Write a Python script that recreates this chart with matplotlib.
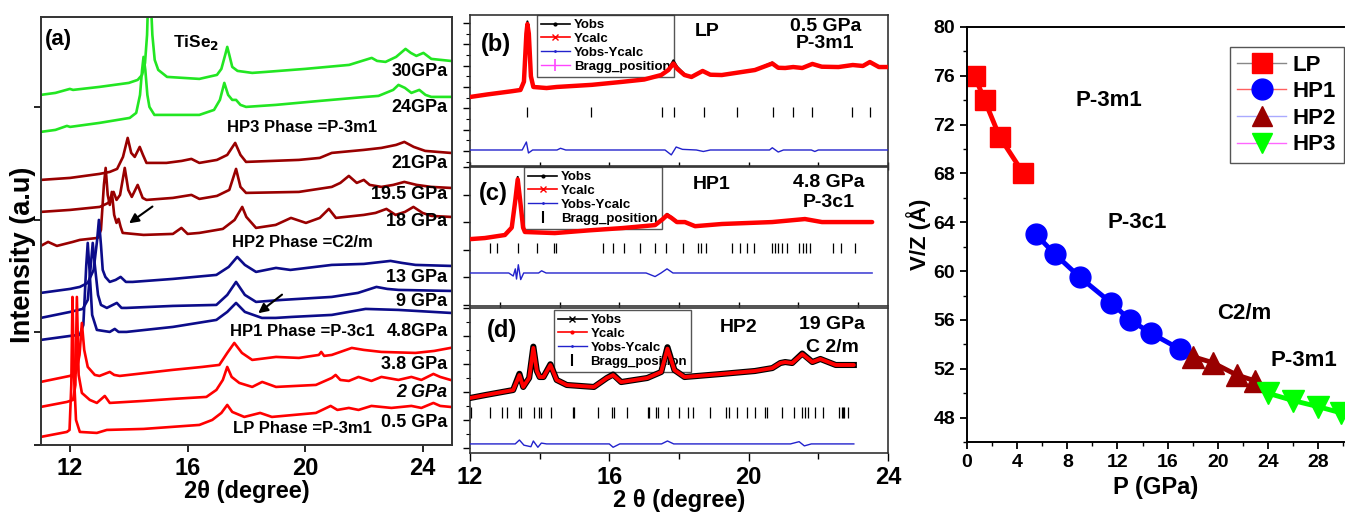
import matplotlib.pyplot as plt
from matplotlib.lines import Line2D
from matplotlib.ticker import MultipleLocator

plt.rcParams['font.family'] = ['Liberation Sans', 'DejaVu Sans']
plt.rcParams['font.weight'] = 'bold'
plt.rcParams['axes.labelweight'] = 'bold'
plt.rcParams['mathtext.default'] = 'bf'

GREEN = '#22e622'
DRED = '#990000'
NAVY = '#0c0c8a'
RED = '#ff0000'

# ---------------- panel (a): stacked XRD patterns, 2theta / intensity (a.u.)
tt_30 = [11.0, 11.5, 11.99, 12.1, 13.0, 14.0, 14.3, 14.45, 14.55, 14.62, 14.66, 14.74, 14.8, 14.88, 15.0, 15.3, 16.4, 17.0,
         17.15, 17.28, 17.35, 17.42, 17.52, 17.7, 18.2, 18.67, 20.0, 21.5, 22.27, 22.45, 22.74, 23.1, 23.42, 23.6, 23.79,
         24.03, 24.3, 24.95]
i_30 = [3.50, 3.52, 3.56, 3.55, 3.58, 3.62, 3.65, 3.70, 3.82, 4.10, 4.50, 4.50, 4.10, 3.85, 3.75, 3.68, 3.66, 3.70,
        3.76, 3.90, 3.98, 3.90, 3.78, 3.74, 3.72, 3.73, 3.76, 3.80, 3.87, 3.84, 3.83, 3.88, 3.96, 3.92, 3.89,
        3.92, 3.86, 3.84]
tt_24 = [11.0, 11.5, 11.89, 12.0, 13.0, 14.03, 14.25, 14.38, 14.45, 14.5, 14.56, 14.63, 14.7, 14.87, 15.5, 16.4, 16.9,
         17.1, 17.25, 17.38, 17.52, 17.65, 17.8, 17.99, 19.0, 20.5, 22.06, 22.5, 23.0, 23.18, 23.4, 23.62, 23.89, 24.1,
         24.3, 24.95]
i_24 = [3.13, 3.15, 3.19, 3.18, 3.22, 3.27, 3.32, 3.50, 3.75, 3.88, 3.75, 3.50, 3.38, 3.30, 3.30, 3.30, 3.35,
        3.45, 3.62, 3.50, 3.45, 3.45, 3.40, 3.38, 3.40, 3.44, 3.48, 3.49, 3.55, 3.60, 3.57, 3.52, 3.55, 3.50,
        3.48, 3.48]
tt_21 = [11.0, 12.0, 13.0, 13.35, 13.6, 13.8, 13.96, 14.08, 14.2, 14.37, 14.48, 14.6, 15.28, 15.8, 16.13, 16.4, 17.0,
         17.35, 17.62, 17.8, 17.99, 19.79, 20.5, 20.91, 22.0, 22.6, 23.1, 23.38, 23.7, 24.09, 24.95]
i_21 = [2.65, 2.67, 2.71, 2.73, 2.76, 2.88, 3.07, 2.92, 2.88, 2.98, 2.90, 2.82, 2.82, 2.84, 2.86, 2.82, 2.85,
        2.90, 3.02, 2.90, 2.83, 2.85, 2.87, 2.92, 2.95, 2.97, 3.00, 3.03, 2.98, 2.94, 2.92]
tt_195 = [11.0, 12.0, 13.01, 13.3, 13.48, 13.58, 13.7, 13.86, 13.98, 14.1, 14.3, 14.47, 14.6, 15.5, 16.13, 16.4, 17.0,
          17.42, 17.65, 17.8, 17.99, 19.79, 20.91, 21.2, 21.49, 21.76, 22.0, 22.2, 22.6, 23.0, 23.38, 23.8, 24.3, 24.95]
i_195 = [2.33, 2.35, 2.38, 2.42, 2.53, 2.45, 2.50, 2.77, 2.55, 2.48, 2.60, 2.47, 2.45, 2.47, 2.50, 2.46, 2.49,
         2.55, 2.76, 2.58, 2.52, 2.53, 2.58, 2.62, 2.69, 2.62, 2.65, 2.60, 2.58, 2.60, 2.63, 2.60, 2.58, 2.57]
tt_18 = [11.0, 11.25, 11.55, 12.09, 12.33, 12.94, 13.05, 13.15, 13.21, 13.28, 13.35, 13.42, 13.5, 13.58, 13.65, 13.72,
         13.79, 14.5, 15.5, 15.79, 16.0, 16.4, 17.2, 17.6, 17.86, 18.0, 18.33, 19.0, 19.52, 20.03, 20.5, 20.81, 21.05,
         22.0, 22.4, 22.77, 23.08, 23.4, 23.69, 24.0, 24.3, 24.95]
i_18 = [1.99, 2.03, 1.99, 2.03, 2.05, 2.07, 2.15, 2.60, 2.77, 2.50, 2.40, 2.53, 2.30, 2.22, 2.26, 2.18,
        2.12, 2.10, 2.11, 2.17, 2.11, 2.12, 2.16, 2.25, 2.38, 2.28, 2.17, 2.20, 2.27, 2.22, 2.27, 2.36, 2.27,
        2.30, 2.32, 2.36, 2.30, 2.33, 2.38, 2.32, 2.29, 2.28]
tt_13 = [11.0, 12.0, 12.33, 12.6, 12.8, 12.92, 12.98, 13.05, 13.11, 13.2, 13.35, 13.55, 13.72, 13.9, 14.13, 15.5, 16.98,
         17.4, 17.69, 17.95, 18.33, 19.01, 19.5, 20.91, 22.0, 22.91, 23.3, 23.76, 24.95]
i_13 = [1.52, 1.56, 1.58, 1.62, 1.75, 2.05, 2.25, 2.00, 1.75, 1.68, 1.63, 1.65, 1.68, 1.63, 1.63, 1.66, 1.70,
        1.78, 1.88, 1.80, 1.73, 1.77, 1.75, 1.80, 1.81, 1.84, 1.82, 1.80, 1.79]
tt_9 = [11.0, 12.0, 12.43, 12.6, 12.72, 12.77, 12.84, 12.95, 13.05, 13.25, 13.59, 13.75, 13.92, 15.5, 16.98, 17.35,
        17.65, 17.95, 18.33, 19.21, 20.91, 21.8, 22.43, 22.8, 23.18, 24.95]
i_9 = [1.27, 1.33, 1.36, 1.45, 1.85, 2.02, 1.80, 1.50, 1.40, 1.37, 1.42, 1.37, 1.37, 1.39, 1.40, 1.50,
       1.63, 1.50, 1.43, 1.45, 1.48, 1.52, 1.58, 1.56, 1.55, 1.54]
tt_48 = [11.0, 12.0, 12.33, 12.45, 12.55, 12.6, 12.66, 12.75, 12.91, 13.35, 13.52, 13.65, 13.92, 15.5, 16.98, 17.35,
         17.65, 17.95, 18.53, 19.0, 19.55, 20.91, 22.06, 23.18, 24.95]
i_48 = [1.05, 1.09, 1.10, 1.20, 1.80, 2.02, 1.75, 1.30, 1.15, 1.13, 1.16, 1.13, 1.13, 1.18, 1.25, 1.33,
        1.42, 1.33, 1.27, 1.27, 1.28, 1.30, 1.36, 1.35, 1.32]
tt_38 = [11.0, 11.99, 12.2, 12.32, 12.4, 12.48, 12.6, 12.84, 13.0, 13.35, 13.5, 13.69, 15.48, 16.5, 17.08, 17.35, 17.59,
         17.85, 18.2, 19.01, 19.79, 20.47, 20.55, 20.65, 20.91, 21.59, 22.0, 22.6, 23.76, 24.4, 24.95]
i_38 = [0.63, 0.69, 0.72, 0.90, 1.22, 0.95, 0.78, 0.70, 0.69, 0.73, 0.70, 0.69, 0.75, 0.78, 0.80, 0.92, 1.02,
        0.92, 0.85, 0.88, 0.87, 0.90, 0.93, 0.89, 0.90, 0.97, 0.95, 0.93, 0.92, 0.94, 0.97]
tt_2 = [11.0, 11.89, 12.1, 12.18, 12.23, 12.29, 12.4, 12.67, 12.91, 13.18, 13.35, 14.5, 15.48, 16.64, 16.98, 17.2,
        17.35, 17.5, 17.76, 18.2, 18.54, 19.01, 20.37, 20.91, 21.04, 21.2, 21.49, 21.82, 22.26, 22.6, 23.18, 23.62,
        23.96, 24.37, 24.6, 24.95]
i_2 = [0.38, 0.43, 0.45, 0.60, 1.48, 0.70, 0.52, 0.45, 0.42, 0.49, 0.42, 0.44, 0.46, 0.48, 0.55, 0.65,
       0.78, 0.68, 0.62, 0.58, 0.63, 0.58, 0.60, 0.67, 0.70, 0.65, 0.64, 0.68, 0.64, 0.68, 0.65, 0.68,
       0.65, 0.71, 0.68, 0.65]
tt_05 = [11.0, 11.89, 11.98, 12.04, 12.08, 12.13, 12.2, 12.33, 12.91, 13.25, 14.5, 16.4, 16.84, 17.15, 17.35, 17.52,
         17.93, 18.47, 18.87, 20.37, 20.87, 21.1, 21.49, 21.82, 22.26, 22.94, 23.62, 23.96, 24.37, 24.6, 24.95]
i_05 = [0.08, 0.13, 0.15, 0.60, 1.48, 0.70, 0.25, 0.13, 0.12, 0.15, 0.16, 0.20, 0.25, 0.32, 0.40, 0.33,
        0.28, 0.32, 0.28, 0.32, 0.39, 0.35, 0.37, 0.35, 0.39, 0.37, 0.39, 0.37, 0.42, 0.39, 0.38]

pressure_labels = ['30GPa', '24GPa', '21GPa', '19.5 GPa', '18 GPa', '13 GPa', '9 GPa', '4.8GPa', '3.8 GPa',
                   '2 GPa', '0.5 GPa']
label_levels = [3.73, 3.37, 2.81, 2.50, 2.23, 1.67, 1.43, 1.13, 0.80, 0.52, 0.22]

# ---------------- panels (b)-(d): Rietveld refinements
b_tt = [12.0, 12.5, 13.2, 13.45, 13.55, 13.62, 13.65, 13.69, 13.75, 13.82, 14.2, 14.49, 15.5, 16.34, 17.0, 17.49,
        17.7, 17.84, 17.95, 18.16, 18.36, 18.68, 18.9, 19.23, 20.18, 20.68, 20.85, 21.05, 21.28, 21.54, 21.83, 22.1,
        22.58, 22.99, 23.28, 23.48, 23.74, 24.0]
b_obs = [50.6, 53.0, 56.0, 57.2, 66.0, 112.0, 121.5, 111.0, 71.0, 60.5, 59.5, 60.0, 62.0, 64.7, 67.0, 71.5,
         77.0, 85.0, 79.0, 72.0, 69.4, 75.0, 71.5, 71.2, 75.9, 83.0, 78.0, 77.8, 78.7, 77.8, 81.6, 79.0,
         78.7, 80.6, 79.7, 83.4, 78.7, 78.7]
b_calc = [50.6, 53.0, 56.0, 57.2, 65.0, 110.0, 119.0, 110.0, 70.0, 60.0, 59.0, 60.0, 62.0, 64.7, 67.0, 71.2,
          76.0, 82.0, 77.0, 71.2, 69.4, 75.0, 71.5, 71.2, 75.9, 82.0, 78.0, 77.8, 78.7, 77.8, 81.6, 79.0,
          78.7, 80.6, 79.7, 83.4, 78.7, 78.7]
b_dtt = [12.0, 13.5, 13.62, 13.68, 13.8, 14.5, 14.6, 14.75, 17.6, 17.78, 17.92, 18.1, 18.5, 18.7, 18.9, 20.6, 20.68,
         20.85, 21.0, 21.8, 21.9, 22.0, 24.0]
b_diff = [0.9, 0.9, 8.4, -1.9, 0.9, 0.9, 2.5, 0.9, 0.9, -3.7, 3.7, 1.5, 0.9, -0.5, 0.9, 0.9, 3.0,
          -1.0, 0.9, 0.9, -0.5, 0.9, 0.9]
b_bragg = [13.65, 15.47, 17.52, 17.87, 18.71, 19.66, 20.70, 21.28, 21.83, 22.98, 23.47]

c_tt = [11.0, 11.5, 12.17, 12.4, 12.52, 12.6, 12.68, 12.78, 12.84, 13.84, 15.0, 16.09, 17.2, 17.45, 17.6, 17.75, 17.93,
        18.2, 18.54, 19.44, 21.12, 22.22, 22.79, 24.47]
c_obs = [13.8, 14.2, 15.3, 18.0, 28.5, 36.4, 28.5, 18.0, 16.4, 16.0, 17.0, 17.8, 18.9, 21.2, 23.0, 21.8, 20.2,
         20.0, 18.5, 19.3, 20.0, 21.1, 20.0, 20.0]
c_calc = [13.8, 14.2, 15.3, 18.0, 28.0, 35.5, 28.0, 18.0, 16.4, 16.0, 17.0, 17.8, 18.9, 21.0, 22.5, 21.5, 20.0,
          20.0, 18.5, 19.3, 20.0, 21.1, 20.0, 20.0]
c_dtt = [11.0, 12.3, 12.45, 12.52, 12.56, 12.62, 12.7, 12.8, 13.3, 13.4, 13.55, 16.9, 17.2, 17.4, 17.6, 17.8, 24.47]
c_diff = [1.5, 1.5, 0.4, 3.0, -0.7, 4.5, -0.9, 1.5, 1.5, 2.3, 1.5, 1.5, 0.2, 1.5, 3.0, 1.5, 1.5]
c_bragg = [11.66, 11.92, 12.61, 13.26, 13.82, 13.87, 15.46, 15.80, 16.17, 16.69, 17.20, 17.55, 18.15, 18.65, 18.74,
           18.90, 19.79, 20.05, 20.27, 20.53, 21.11, 21.20, 21.31, 21.45, 21.61, 22.03, 22.14, 22.26, 22.40, 23.15,
           23.44, 23.90]

d_tt = [12.0, 12.46, 13.24, 13.42, 13.53, 13.7, 13.82, 13.92, 14.0, 14.11, 14.31, 14.49, 14.78, 15.56, 15.93, 16.11,
        16.34, 17.09, 17.49, 17.67, 17.87, 18.16, 19.23, 20.18, 20.68, 20.91, 21.05, 21.25, 21.54, 21.83, 22.06, 22.5,
        23.02]
d_obs = [35.7, 37.9, 41.4, 53.0, 43.6, 50.0, 72.4, 55.0, 50.7, 50.7, 59.8, 48.6, 45.0, 43.6, 50.0, 52.5,
         47.1, 50.0, 54.3, 72.0, 55.7, 50.7, 52.9, 55.0, 57.1, 60.7, 61.4, 60.7, 67.5, 61.4, 63.6, 59.3,
         59.3]
d_calc = [35.7, 37.9, 41.4, 52.1, 43.6, 50.0, 71.5, 55.0, 50.7, 50.7, 59.3, 48.6, 45.0, 43.6, 50.0, 52.1,
          47.1, 50.0, 54.3, 71.0, 55.7, 50.7, 52.9, 55.0, 57.1, 60.7, 61.4, 60.7, 67.1, 61.4, 63.6, 59.3,
          59.3]
d_dtt = [12.0, 13.3, 13.42, 13.55, 13.75, 13.82, 13.95, 14.05, 14.2, 16.0, 16.11, 16.3, 17.5, 17.67, 17.85, 21.2,
         21.45, 21.6, 21.8, 23.02]
d_diff = [2.9, 2.9, 5.7, 2.0, 0.9, 5.0, 0.5, 3.5, 2.9, 2.9, 0.5, 2.9, 2.9, 5.0, 2.9, 2.9, 4.5, 1.5, 2.9, 2.9]
d_bragg = [12.04, 12.57, 12.93, 13.05, 13.42, 13.48, 13.85, 13.97, 14.03, 14.33, 14.96, 15.00, 15.67, 16.09, 16.14,
           16.52, 17.10, 17.15, 17.34, 17.39, 17.68, 17.99, 18.26, 18.40, 18.88, 19.34, 19.43, 19.68, 19.95, 20.18,
           20.47, 20.52, 20.96, 21.29, 21.54, 21.61, 21.70, 21.90, 22.13, 22.60, 22.68, 22.71, 22.74, 22.84]

# ---------------- right panel: V/Z vs P
p_lp = [0.6, 1.4, 2.6, 4.5]
v_lp = [76.0, 74.0, 71.0, 68.0]
p_hp1 = [5.5, 7.0, 9.0, 11.5, 13.0, 14.7, 17.0]
v_hp1 = [63.0, 61.4, 59.5, 57.4, 56.0, 54.9, 53.6]
p_hp2 = [18.0, 19.6, 21.5, 23.0]
v_hp2 = [53.0, 52.5, 51.5, 51.0]
p_hp3 = [24.0, 26.0, 28.0, 29.8]
v_hp3 = [50.0, 49.4, 48.9, 48.4]

fig = plt.figure(figsize=(13.45, 5.12), dpi=100)

# ---- (a)
ax = fig.add_axes([0.0303, 0.131, 0.3057, 0.836])
curves = [(tt_30, i_30, GREEN), (tt_24, i_24, GREEN), (tt_21, i_21, DRED), (tt_195, i_195, DRED),
          (tt_18, i_18, DRED), (tt_13, i_13, NAVY), (tt_9, i_9, NAVY), (tt_48, i_48, NAVY),
          (tt_38, i_38, RED), (tt_2, i_2, RED), (tt_05, i_05, RED)]
for x, y, c in curves:
    ax.plot(x, y, color=c, lw=1.9)
ax.set_xlim(11, 25)
ax.set_ylim(0, 4.28)
ax.set_xticks([12, 16, 20, 24])
ax.set_yticks([0, 1.125, 2.25, 3.375])
ax.set_yticklabels([])
ax.tick_params(labelsize=17, length=5, width=1.2)
for lab, lev in zip(pressure_labels, label_levels):
    ax.text(24.85, lev, lab, ha='right', va='center', fontsize=13,
            style='italic' if lab == '2 GPa' else 'normal')
ax.text(19.9, 3.17, 'HP3 Phase =P-3m1', ha='center', va='center', fontsize=12)
ax.text(19.9, 2.02, 'HP2 Phase =C2/m', ha='center', va='center', fontsize=12)
ax.text(19.9, 1.13, 'HP1 Phase =P-3c1', ha='center', va='center', fontsize=12)
ax.text(19.9, 0.16, 'LP Phase =P-3m1', ha='center', va='center', fontsize=12)
ax.text(16.3, 4.02, 'TiSe$_2$', ha='center', va='center', fontsize=12.5)
ax.text(11.15, 4.05, '(a)', ha='left', va='center', fontsize=16)
ax.annotate('', xy=(13.93, 2.20), xytext=(14.88, 2.40),
            arrowprops=dict(arrowstyle='-|>', color='black', lw=1.5, mutation_scale=14))
ax.annotate('', xy=(18.33, 1.30), xytext=(19.29, 1.52),
            arrowprops=dict(arrowstyle='-|>', color='black', lw=1.5, mutation_scale=14))
ax.set_ylabel('Intensity (a.u)', fontsize=19.5)
ax.yaxis.set_label_coords(-0.012, 0.444)
ax.set_xlabel('2θ (degree)', fontsize=17, labelpad=0)
for s in ax.spines.values():
    s.set_linewidth(1.4)
    s.set_color('#333333')


def refine_panel(rect, xlim, ylim, tt, obs, calc, dtt, diff, bragg, blo, bhi, obs_marker, calc_marker,
                 bragg_style):
    a = fig.add_axes(rect)
    a.plot(tt, obs, color='black', lw=4.4 if obs_marker == 'x' else 1.5, zorder=3)
    a.plot(tt, calc, color=RED, lw=2.8 if obs_marker == 'x' else 3.2, solid_capstyle='round', zorder=4)
    a.plot(dtt, diff, color='#2222cc', lw=1.0, zorder=3)
    a.vlines(bragg, blo, bhi, color='black', lw=0.9, zorder=3)
    a.set_xlim(*xlim)
    a.set_ylim(*ylim)
    a.xaxis.set_major_locator(MultipleLocator(2))
    a.tick_params(axis='x', direction='inout', length=6, width=1.0)
    a.tick_params(axis='y', direction='out', length=5, width=1.0)
    a.tick_params(axis='y', which='minor', direction='out', length=3, width=0.8)
    a.set_yticklabels([])
    for s in a.spines.values():
        s.set_linewidth(1.2)
        s.set_color('#333333')
    if bragg_style == 'magenta':
        bh = Line2D([0], [0], color='#ff44ff', lw=1.0, marker='|', ms=8, mew=1.2)
    else:
        bh = Line2D([0], [0], color='black', lw=0, marker='|', ms=8, mew=1.5)
    handles = [Line2D([0], [0], color='black', lw=1.2, marker=obs_marker, ms=4),
               Line2D([0], [0], color=RED, lw=1.2, marker=calc_marker, ms=4),
               Line2D([0], [0], color='#2222cc', lw=1.0, marker='.', ms=2),
               bh]
    return a, handles


leg_names = ['Yobs', 'Ycalc', 'Yobs-Ycalc', 'Bragg_position']
leg_kw = dict(prop={'size': 9.5, 'weight': 'bold'}, handlelength=2.2, labelspacing=0.12, borderpad=0.3,
              handletextpad=0.3, fancybox=False, edgecolor='#555555', framealpha=1, borderaxespad=0)

# ---- (b)
axb, hb = refine_panel([0.3494, 0.6758, 0.3108, 0.2949], (12, 24), (-14.1, 127.5), b_tt, b_obs, b_calc,
                       b_dtt, b_diff, b_bragg, 31.9, 41.2, '.', 'x', 'magenta')
axb.yaxis.set_major_locator(MultipleLocator(20))
axb.yaxis.set_minor_locator(MultipleLocator(10))
axb.set_xticklabels([])
leg = axb.legend(hb, leg_names, loc='upper left', bbox_to_anchor=(0.16, 1.0), **leg_kw)
leg.set_zorder(2)
axb.text(12.3, 100, '(b)', fontsize=17, va='center')
axb.text(18.8, 112, 'LP', fontsize=14, ha='center', va='center')
axb.text(22.2, 117, '0.5 GPa', fontsize=14, ha='center', va='center')
axb.text(22.2, 101, 'P-3m1', fontsize=14, ha='center', va='center')

# ---- (c)
axc, hc = refine_panel([0.3494, 0.4023, 0.3108, 0.2715], (11, 25), (-10.5, 40), c_tt, c_obs, c_calc,
                       c_dtt, c_diff, c_bragg, 8.7, 12.4, '.', 'x', 'black')
axc.yaxis.set_major_locator(MultipleLocator(10))
axc.set_xticklabels([])
leg = axc.legend(hc, leg_names, loc='upper left', bbox_to_anchor=(0.13, 1.0), **leg_kw)
leg.set_zorder(2)
axc.text(11.3, 30.5, '(c)', fontsize=17, va='center')
axc.text(19.1, 33.5, 'HP1', fontsize=14, ha='center', va='center')
axc.text(23.0, 34.2, '4.8 GPa', fontsize=14, ha='center', va='center')
axc.text(23.0, 27.0, 'P-3c1', fontsize=14, ha='center', va='center')

# ---- (d)
axd, hd = refine_panel([0.3494, 0.1152, 0.3108, 0.2832], (12, 24), (-3.6, 100), d_tt, d_obs, d_calc,
                       d_dtt, d_diff, d_bragg, 21.4, 29.3, 'x', '.', 'black')
axd.yaxis.set_major_locator(MultipleLocator(20))
axd.yaxis.set_minor_locator(MultipleLocator(10))
axd.xaxis.set_major_locator(MultipleLocator(4))
axd.xaxis.set_minor_locator(MultipleLocator(2))
axd.tick_params(axis='x', which='both', direction='out', labelsize=17, length=6, width=1.0)
axd.tick_params(axis='x', which='minor', length=4)
leg = axd.legend(hd, leg_names, loc='upper left', bbox_to_anchor=(0.2, 0.986), **leg_kw)
leg.set_zorder(2)
axd.text(12.5, 84, '(d)', fontsize=17, va='center')
axd.text(19.7, 86, 'HP2', fontsize=14, ha='center', va='center')
axd.text(22.4, 88, '19 GPa', fontsize=14, ha='center', va='center')
axd.text(22.4, 71.5, 'C 2/m', fontsize=14, ha='center', va='center')
axd.set_xlabel('2 θ (degree)', fontsize=17, labelpad=0)

# ---- right panel
axr = fig.add_axes([0.719, 0.1367, 0.2805, 0.8106])
axr.plot(p_lp, v_lp, color=RED, lw=3.5, marker='s', ms=14)
axr.plot(p_hp1, v_hp1, color='#0000ff', lw=3.5, marker='o', ms=15)
axr.plot(p_hp2, v_hp2, color=DRED, lw=3.5, marker='^', ms=16)
axr.plot(p_hp3, v_hp3, color='#00ff00', lw=3.5, marker='v', ms=16)
axr.set_xlim(0, 30.1)
axr.set_ylim(46, 80)
axr.xaxis.set_major_locator(MultipleLocator(4))
axr.xaxis.set_minor_locator(MultipleLocator(2))
axr.yaxis.set_major_locator(MultipleLocator(4))
axr.yaxis.set_minor_locator(MultipleLocator(2))
axr.tick_params(labelsize=14, length=5, width=1.3)
axr.tick_params(which='minor', length=3, width=1.0)
axr.spines['right'].set_visible(False)
for s in ['left', 'bottom', 'top']:
    axr.spines[s].set_linewidth(1.4)
axr.set_ylabel('V/Z (Å)', fontsize=16, labelpad=2)
axr.set_xlabel('P (GPa)', fontsize=17, labelpad=4)
axr.text(11.3, 74.0, 'P-3m1', fontsize=16, ha='center', va='center')
axr.text(13.6, 64.0, 'P-3c1', fontsize=16, ha='center', va='center')
axr.text(22.1, 56.5, 'C2/m', fontsize=16, ha='center', va='center')
axr.text(26.9, 52.7, 'P-3m1', fontsize=16, ha='center', va='center')
phase_handles = [
    Line2D([0], [0], color='#888888', lw=1, marker='s', ms=14, mfc=RED, mec=RED),
    Line2D([0], [0], color='#ff6060', lw=1, marker='o', ms=15, mfc='#0000ff', mec='#0000ff'),
    Line2D([0], [0], color='#aaaaff', lw=1, marker='^', ms=15, mfc=DRED, mec=DRED),
    Line2D([0], [0], color='#ff66ff', lw=1, marker='v', ms=15, mfc='#00ff00', mec='#00ff00'),
]
axr.legend(phase_handles, ['LP', 'HP1', 'HP2', 'HP3'], loc='upper left', bbox_to_anchor=(0.696, 0.952),
           prop={'size': 16, 'weight': 'bold'}, fancybox=False, edgecolor='#555555', framealpha=1,
           handlelength=2.2, labelspacing=0.25, borderpad=0.35, handletextpad=0.3, borderaxespad=0)

fig.savefig('out.png', dpi=100)
